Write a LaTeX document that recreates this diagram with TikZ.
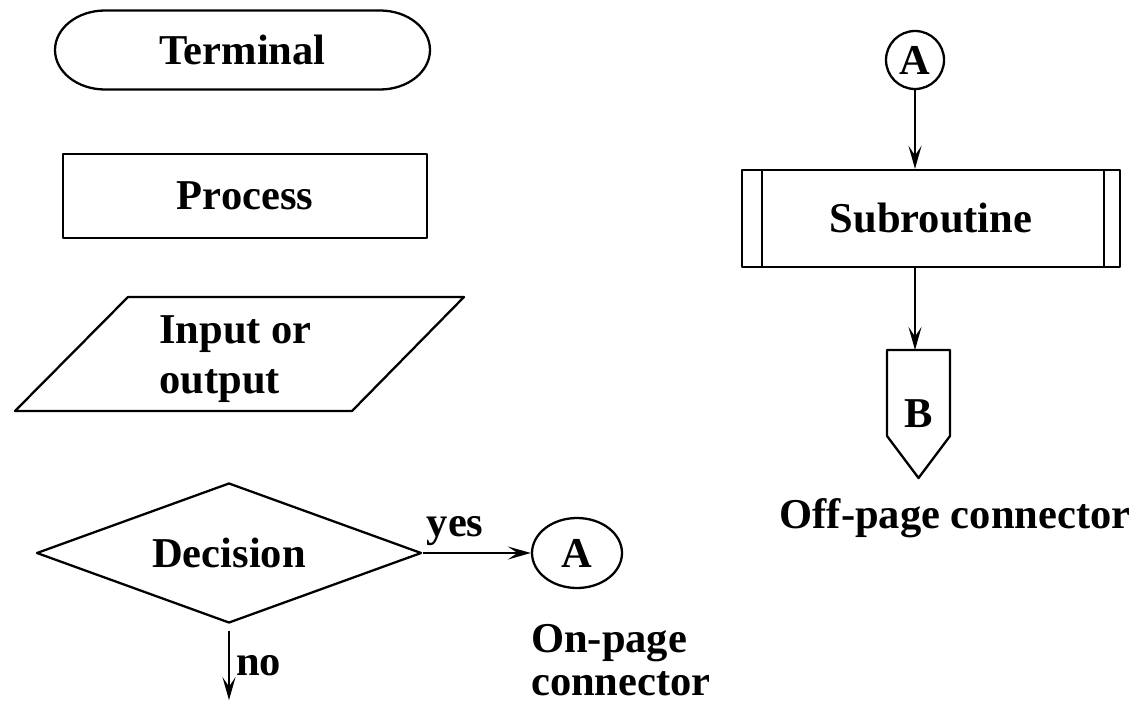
\documentclass[tikz,border=0pt]{standalone}
\usepackage{fontspec}
\setmainfont{Liberation Serif}
\usetikzlibrary{shapes.geometric,arrows.meta}

\tikzset{
    box/.style={draw, rectangle, inner sep=0},
    conn/.style={-{Stealth[length=4.6mm,width=2.6mm,inset=1.9mm]}},
}

\begin{document}
\begin{tikzpicture}[line width=1.3pt, line join=round, font=\fontsize{24.2}{28.5}\selectfont\bfseries]
    \useasboundingbox (0,0) rectangle (22.76,-14.18);
    % terminal
    \node [minimum width=5.5cm, minimum height=1.58cm, inner sep=0, outer sep=0] (term) at (4.85,-1.0) {Terminal};
    \draw (term.north west) -- (term.north east) arc (90:-90:1cm and 0.79cm) -- (term.south west) arc (270:90:1cm and 0.79cm) -- cycle;
    % process
    \node [box, minimum width=7.28cm, minimum height=1.68cm] (proc) at (4.9,-3.92) {Process};
    % input or output
    \draw (2.56,-5.94) -- (9.28,-5.94) -- (7.04,-8.22) -- (0.30,-8.22) -- cycle;
    \node [align=left] (io) at (4.71,-7.18) {Input or\\output};
    % decision
    \node [draw, diamond, aspect=2.75, minimum width=7.7cm, minimum height=2.8cm, inner sep=0] (dec) at (4.58,-11.06) {Decision};
    \node [draw, ellipse, minimum width=1.8cm, minimum height=1.4cm, inner sep=0] (onA) at (11.54,-11.06) {A};
    \draw [conn] (dec.east) -- (onA.west) node [pos=0.3, above] {yes};
    \coordinate (noend) at ([yshift=-1.52cm]dec.south);
    \draw [conn] ([yshift=-0.14cm]dec.south) -- (noend) node [midway, right] {no};
    \node [anchor=west, align=left, inner sep=0, font=\fontsize{24.2}{24.5}\selectfont\bfseries] (onlbl) at (10.6,-13.2) {On-page\\connector};
    % subroutine and off-page connector
    \node [draw, circle, minimum size=1.16cm, inner sep=0] (offA) at (18.3,-1.2) {A};
    \node [box, minimum width=7.56cm, minimum height=1.94cm] (sub) at (18.62,-4.37) {Subroutine};
    \draw (sub.north west) ++(0.42,0) -- ++(0,-1.94);
    \draw (sub.north east) ++(-0.34,0) -- ++(0,-1.94);
    \draw [conn] (offA) -- (offA |- sub.north);
    \node [minimum width=1.26cm, minimum height=2.56cm, inner sep=0, outer sep=0] (offB) at (18.37,-8.28) {B};
    \draw (offB.north west) -- (offB.north east) -- ++(0,-1.72) -- (offB.south) -- ([yshift=0.84cm]offB.south west) -- cycle;
    \draw [conn] (offA |- sub.south) -- (offA |- offB.north);
    \node (offlbl) at (19.1,-10.36) {Off-page connector};
\end{tikzpicture}
\end{document}
